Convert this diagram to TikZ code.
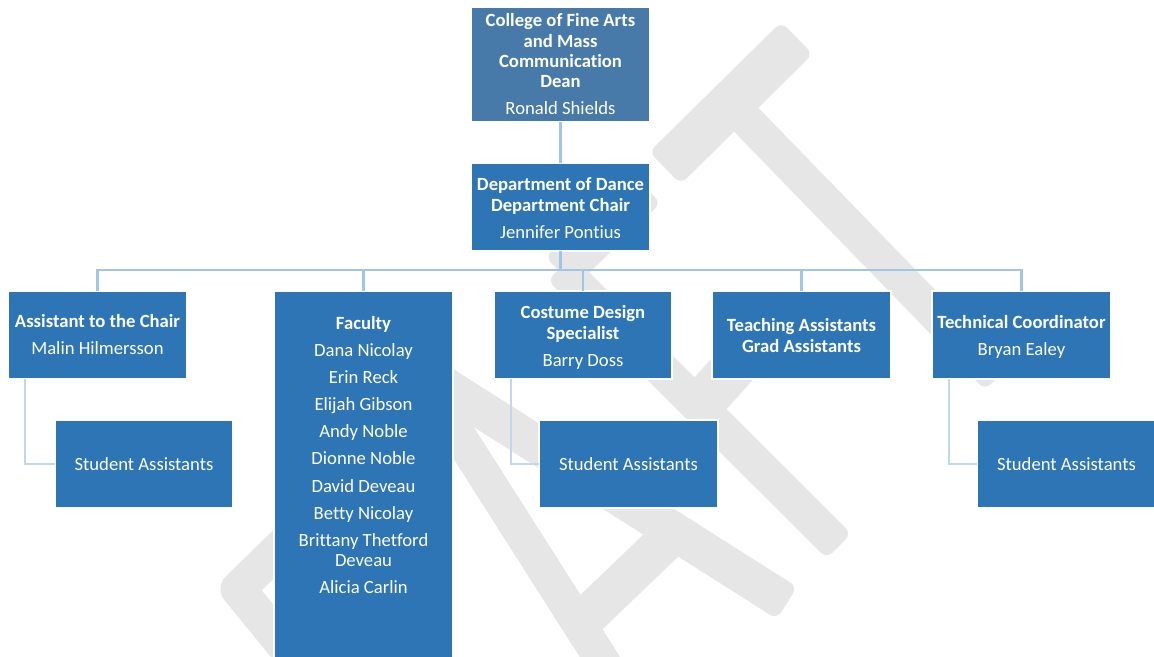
\documentclass[tikz,border=0pt]{standalone}
\usepackage{fontspec}
\setmainfont[Ligatures=NoCommon]{Carlito}
\usetikzlibrary{calc}
\definecolor{boxblue}{RGB}{46,117,182}
\definecolor{deanblue}{RGB}{71,122,168}
\definecolor{linkblue}{RGB}{162,196,230}
\definecolor{sublink}{RGB}{196,214,236}
\definecolor{wmgray}{RGB}{230,230,230}
\newcommand\wmband[3]{\fill[wmgray,rounded corners=8pt] ($(#1)!#3!90:(#2)$) -- ($(#2)!#3!-90:(#1)$) -- ($(#2)!#3!90:(#1)$) -- ($(#1)!#3!-90:(#2)$) -- cycle;}
\begin{document}
\begin{tikzpicture}[x=1pt,y=-1pt,
  orgbox/.style={draw=white, line width=1.2pt, fill=boxblue, inner sep=0pt, outer sep=0pt, minimum width=179pt, minimum height=88pt},
  boxtext/.style={text=white, align=center, anchor=north, inner sep=0pt, font=\fontsize{18.67pt}{20.3pt}\selectfont},
  link/.style={draw=linkblue, line width=2.6pt},
  sublinkstyle/.style={draw=sublink, line width=2.6pt}]
\useasboundingbox (0,0) rectangle (1154,656);
\fill[white] (0,0) rectangle (1154,656);
% watermark
\wmband{665,168}{797,38}{22.5pt}
\wmband{728,101}{997,378}{17pt}
\wmband{560,272}{646,188}{21pt}
\wmband{560,268}{839,546}{17.5pt}
\wmband{700,405}{770,327}{22.5pt}
\wmband{416,368}{787,603}{19pt}
\wmband{416,368}{640,720}{17pt}
\wmband{675,532}{579,624}{20pt}
\draw[wmgray, line width=35pt, line join=round] (320,509) -- (238,589) -- (300,665);
% boxes
\node[orgbox, fill=deanblue, minimum height=115pt] (dean) at (560.5,64.5) {};
\node[orgbox] (dept) at (560.5,207) {};
\node[orgbox] (asst) at (97.5,335) {};
\node[orgbox, minimum height=371pt] (fac) at (363.5,476.5) {};
\node[orgbox, minimum width=178pt] (cost) at (583,335) {};
\node[orgbox] (teach) at (801.5,335) {};
\node[orgbox] (tech) at (1021.5,335) {};
\node[orgbox, minimum width=178pt] (stuA) at (144,464) {};
\node[orgbox] (stuB) at (628.5,464) {};
\node[orgbox] (stuC) at (1066.5,464) {};
% connectors
\coordinate (bus) at (560.5,270);
\draw[link] (dean.south) -- (dept.north);
\draw[link] (dept.south) -- (bus);
\foreach \c in {asst,fac,cost,teach,tech} \draw[link] (\c.north) |- (bus);
\draw[sublinkstyle] ([xshift=17pt]asst.south west) |- (stuA.west);
\draw[sublinkstyle] ([xshift=17pt]cost.south west) |- (stuB.west);
\draw[sublinkstyle] ([xshift=17pt]tech.south west) |- (stuC.west);
% texts
\node[boxtext] (deanT) at (560.5,12.7) {\rule{0pt}{14pt}\textbf{College of Fine Arts}\\\textbf{and Mass}\\\textbf{Communication}\\\textbf{Dean}\\[6.5pt]Ronald Shields};
\node[boxtext] (deptT) at (560.5,176.7) {\rule{0pt}{14pt}\textbf{Department of Dance}\\\textbf{Department Chair}\\[6.5pt]Jennifer Pontius};
\node[boxtext] (asstT) at (97.5,313.7) {\rule{0pt}{14pt}\textbf{Assistant to the Chair}\\[6.5pt]Malin Hilmersson};
\node[boxtext] (facT) at (363.5,315.2) {\rule{0pt}{14pt}\textbf{Faculty}\\[6.8pt]Dana Nicolay\\[6.8pt]Erin Reck\\[6.8pt]Elijah Gibson\\[6.8pt]Andy Noble\\[6.8pt]Dionne Noble\\[6.8pt]David Deveau\\[6.8pt]Betty Nicolay\\[6.8pt]Brittany Thetford\\Deveau\\[6.8pt]Alicia Carlin};
\node[boxtext] (costT) at (583,304.7) {\rule{0pt}{14pt}\textbf{Costume Design}\\\textbf{Specialist}\\[6.5pt]Barry Doss};
\node[boxtext] (teachT) at (801.5,317.7) {\rule{0pt}{14pt}\textbf{Teaching Assistants}\\\textbf{Grad Assistants}};
\node[boxtext] (techT) at (1021.5,314.7) {\rule{0pt}{14pt}\textbf{Technical Coordinator}\\[6.5pt]Bryan Ealey};
\node[boxtext] (stuAT) at (144,456.7) {\rule{0pt}{14pt}Student Assistants};
\node[boxtext] (stuBT) at (628.5,456.7) {\rule{0pt}{14pt}Student Assistants};
\node[boxtext] (stuCT) at (1066.5,456.7) {\rule{0pt}{14pt}Student Assistants};
\end{tikzpicture}
\end{document}
